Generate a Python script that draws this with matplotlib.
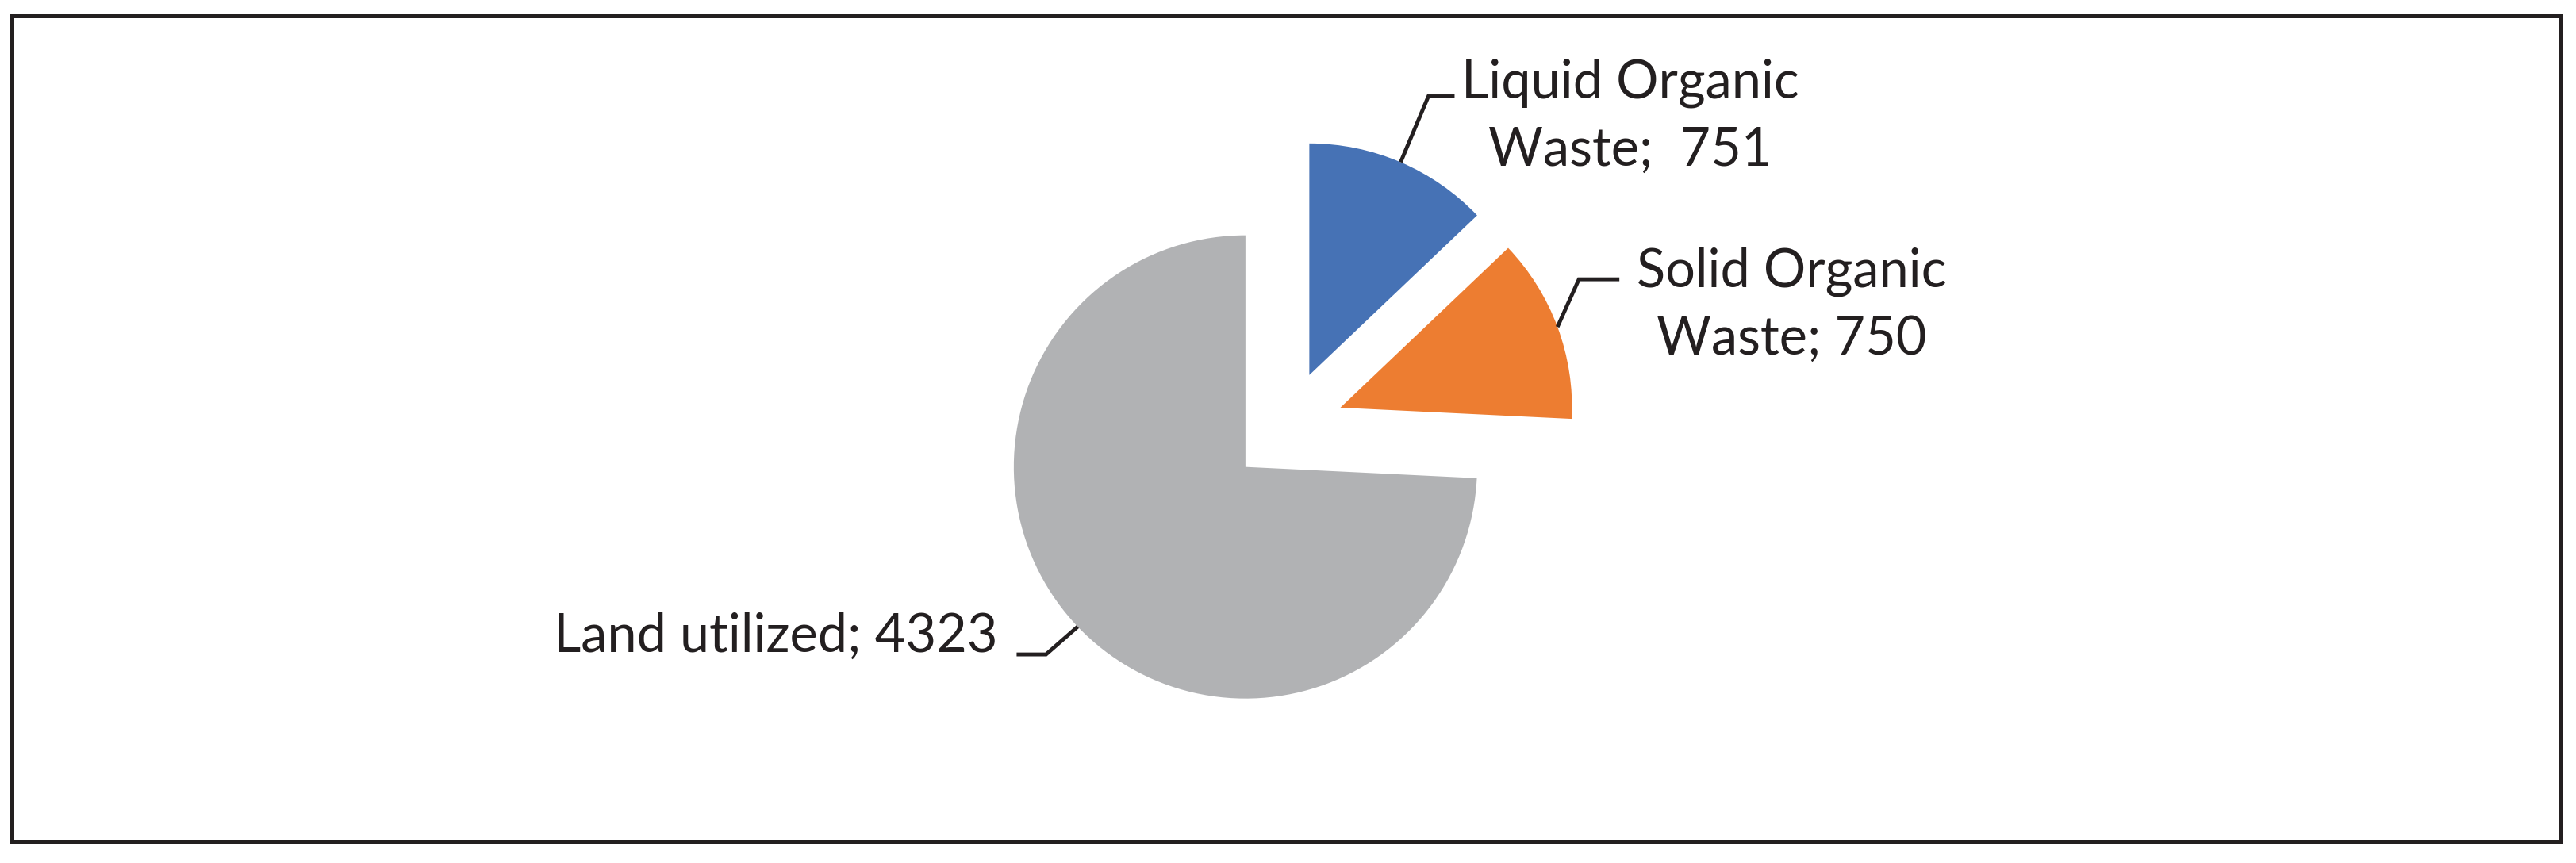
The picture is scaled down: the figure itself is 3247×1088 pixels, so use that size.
import numpy as np
import matplotlib
matplotlib.use("Agg")
import matplotlib.pyplot as plt
from matplotlib.patches import Rectangle

# data
categories = ["Liquid Organic\nWaste;  751", "Solid Organic\nWaste; 750", "Land utilized; 4323"]
values = [751, 750, 4323]
colors = ["#4672B5", "#ED7D31", "#B1B2B4"]

# label layout (pixels, y up): text centre and leader offsets
text_pos = [(2055, 941), (2258, 703), (978, 285)]
elbow_off = [(35, 83), (27, 60), (-40, -35)]
tail_len = [33, 51, -37]

W, H = 3248, 1088
fig = plt.figure(figsize=(W / 100, H / 100), dpi=100)
ax = fig.add_axes([0, 0, 1, 1])

wedges, _ = ax.pie(values, colors=colors, startangle=90, counterclock=False,
                   explode=[72] * 3, radius=292, center=(1622, 549))
ax.set_xlim(0, W)
ax.set_ylim(0, H)
ax.set_aspect("equal")
ax.axis("off")

txt_color = "#231F20"
for w, lab, tp, eo, tl in zip(wedges, categories, text_pos, elbow_off, tail_len):
    # leader starts at the middle of the wedge arc
    mid = np.deg2rad((w.theta1 + w.theta2) / 2)
    x0 = w.center[0] + w.r * np.cos(mid)
    y0 = w.center[1] + w.r * np.sin(mid)
    x1, y1 = x0 + eo[0], y0 + eo[1]
    ax.plot([x0, x1, x1 + tl], [y0, y1, y1], color=txt_color, lw=3.5,
            solid_capstyle="butt", solid_joinstyle="miter")
    ax.text(tp[0], tp[1], lab, ha="center", va="center", multialignment="center",
            fontsize=48, family="Lato", color=txt_color, linespacing=1.45)

# outer frame
fig.patches.append(Rectangle((15.5 / W, 27.5 / H), 3213 / W, 1041 / H,
                             transform=fig.transFigure, fill=False,
                             edgecolor=txt_color, lw=3.6))

fig.savefig("out.png", dpi=100)
